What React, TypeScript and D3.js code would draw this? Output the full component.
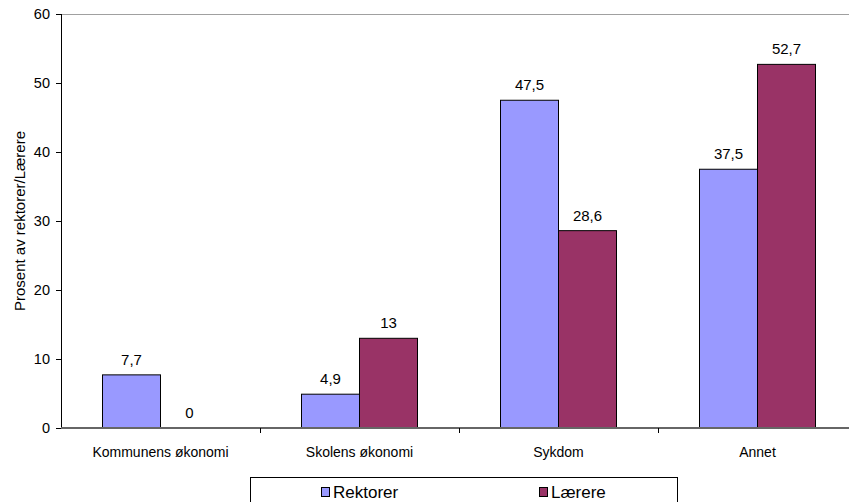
import React from "react";
import * as d3 from "d3";

const categories = ["Kommunens økonomi", "Skolens økonomi", "Sykdom", "Annet"];
const seriesNames = ["Rektorer", "Lærere"];
const rektorer = [7.7, 4.9, 47.5, 37.5];
const laerere = [0, 13, 28.6, 52.7];
const yTicks = [0, 10, 20, 30, 40, 50, 60];
const colors = ["#9999FF", "#993366"];
const yTitle = "Prosent av rektorer/Lærere";

const W = 849;
const H = 502;
const left = 61;
const bandW = 199;
const top = 14;
const bottom = 428;

export default function App() {
  const x = d3
    .scaleBand<string>()
    .domain(categories)
    .range([left, left + bandW * categories.length])
    .paddingInner(0)
    .paddingOuter(0);
  const y = d3.scaleLinear().domain([0, 60]).range([bottom, top]);
  const barW = 58;
  const fmt = (v: number) => String(v).replace(".", ",");
  const series = [rektorer, laerere];
  const font = "'Liberation Sans', Arial, sans-serif";

  return (
    <div style={{ position: "absolute", left: 0, top: 0 }}>
      <svg width={W} height={H} style={{ display: "block", fontFamily: font }}>
        <rect x={0} y={0} width={W} height={H} fill="#fff" />
        {/* top border line */}
        <line x1={left} x2={W} y1={top + 0.5} y2={top + 0.5} stroke="#a0a0a0" strokeWidth={1} />
        {/* bars */}
        {categories.map((c, i) =>
          series.map((s, j) => {
            const cx = (x(c) as number) + x.bandwidth() / 2;
            const bx = cx - barW + j * barW;
            const v = s[i];
            const yt = y(v);
            return (
              <g key={c + j}>
                {v > 0 && (
                  <rect
                    x={bx}
                    y={yt}
                    width={barW}
                    height={bottom - yt}
                    fill={colors[j]}
                    stroke="#000"
                    strokeWidth={1}
                  />
                )}
                <text
                  x={bx + barW / 2}
                  y={yt - 10}
                  textAnchor="middle"
                  fontSize={15}
                  fill="#000"
                >
                  {fmt(v)}
                </text>
              </g>
            );
          })
        )}
        {/* y axis */}
        <line x1={left + 0.5} x2={left + 0.5} y1={top} y2={bottom} stroke="#000" strokeWidth={1} />
        {yTicks.map((t) => (
          <g key={t}>
            <line x1={left - 5} x2={left} y1={y(t) + 0.5} y2={y(t) + 0.5} stroke="#000" />
            <text x={left - 11} y={y(t) + 5} textAnchor="end" fontSize={14.5} fill="#000">
              {t}
            </text>
          </g>
        ))}
        {/* x axis */}
        <line x1={left} x2={W} y1={bottom} y2={bottom} stroke="#666" strokeWidth={2} />
        {categories.map((c, i) => (
          <g key={c}>
            {i > 0 && (
              <line
                x1={(x(c) as number) + 0.5}
                x2={(x(c) as number) + 0.5}
                y1={bottom}
                y2={bottom + 5}
                stroke="#000"
              />
            )}
            <text
              x={(x(c) as number) + x.bandwidth() / 2}
              y={457}
              textAnchor="middle"
              fontSize={14}
              fill="#000"
            >
              {c}
            </text>
          </g>
        ))}
        {/* y title */}
        <text
          transform={`translate(25, ${(top + bottom) / 2}) rotate(-90)`}
          textAnchor="middle"
          fontSize={15}
          fill="#000"
        >
          {yTitle}
        </text>
        {/* legend */}
        <rect x={250.5} y={477.5} width={427} height={40} fill="#fff" stroke="#000" strokeWidth={1} />
        {seriesNames.map((n, j) => {
          const lx = j === 0 ? 321 : 539;
          return (
            <g key={n}>
              <rect x={lx + 0.5} y={487.5} width={8} height={9} fill={colors[j]} stroke="#000" strokeWidth={1} />
              <text x={lx + 12} y={498} fontSize={17} fill="#000">
                {n}
              </text>
            </g>
          );
        })}
      </svg>
    </div>
  );
}
